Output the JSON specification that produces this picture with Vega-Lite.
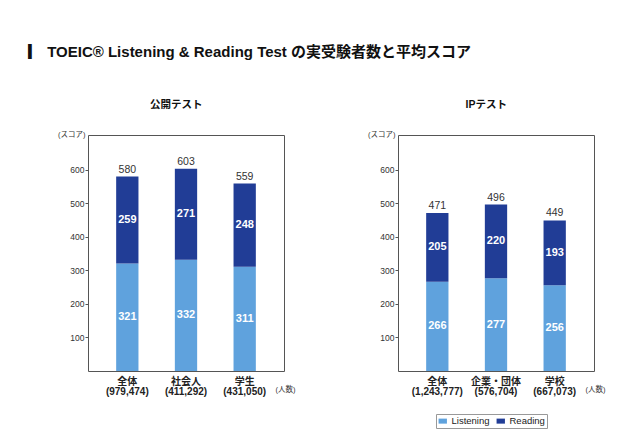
{
  "$schema": "https://vega.github.io/schema/vega-lite/v6.json",
  "padding": {"left": 28, "top": 45, "right": 0, "bottom": 0},
  "title": {"text": "▎ TOEIC® Listening & Reading Test の実受験者数と平均スコア", "anchor": "start", "fontSize": 15, "fontWeight": "bold", "color": "#111", "dx": -29, "offset": 39},
  "datasets": {
    "scores": [
      {"panel": "公開テスト", "label": "全体\n(979,474)", "section": "Listening", "score": 321},
      {"panel": "公開テスト", "label": "全体\n(979,474)", "section": "Reading", "score": 259},
      {"panel": "公開テスト", "label": "社会人\n(411,292)", "section": "Listening", "score": 332},
      {"panel": "公開テスト", "label": "社会人\n(411,292)", "section": "Reading", "score": 271},
      {"panel": "公開テスト", "label": "学生\n(431,050)", "section": "Listening", "score": 311},
      {"panel": "公開テスト", "label": "学生\n(431,050)", "section": "Reading", "score": 248},
      {"panel": "IPテスト", "label": "全体\n(1,243,777)", "section": "Listening", "score": 266},
      {"panel": "IPテスト", "label": "全体\n(1,243,777)", "section": "Reading", "score": 205},
      {"panel": "IPテスト", "label": "企業・団体\n(576,704)", "section": "Listening", "score": 277},
      {"panel": "IPテスト", "label": "企業・団体\n(576,704)", "section": "Reading", "score": 220},
      {"panel": "IPテスト", "label": "学校\n(667,073)", "section": "Listening", "score": 256},
      {"panel": "IPテスト", "label": "学校\n(667,073)", "section": "Reading", "score": 193}
    ],
    "totals": [
      {"panel": "公開テスト", "label": "全体\n(979,474)", "total": 580},
      {"panel": "公開テスト", "label": "社会人\n(411,292)", "total": 603},
      {"panel": "公開テスト", "label": "学生\n(431,050)", "total": 559},
      {"panel": "IPテスト", "label": "全体\n(1,243,777)", "total": 471},
      {"panel": "IPテスト", "label": "企業・団体\n(576,704)", "total": 496},
      {"panel": "IPテスト", "label": "学校\n(667,073)", "total": 449}
    ]
  },
  "spacing": 71,
  "hconcat": [
    {
      "title": {"text": "公開テスト"},
      "width": 196,
      "height": 236,
      "encoding": {
        "x": {"field": "label", "type": "nominal", "sort": null, "scale": {"paddingInner": 0.62, "paddingOuter": 0.48},
          "axis": {"labelExpr": "split(datum.value, '\\n')", "labelAngle": 0, "ticks": false, "labelPadding": 5, "labelFontSize": 10, "labelFontWeight": "bold", "labelColor": "#222", "labelLineHeight": 10,
            "title": "(人数)", "titleX": 187, "titleY": 18, "titleAlign": "left", "titleBaseline": "middle", "titleFontSize": 7.5, "titleFontWeight": "normal", "titleColor": "#333"}}
      },
      "layer": [
        {
          "data": {"name": "scores"},
          "transform": [{"filter": "datum.panel === '公開テスト'"}],
          "mark": {"type": "bar"},
          "encoding": {
            "y": {"field": "score", "type": "quantitative", "title": "(スコア)", "scale": {"domain": [0, 704], "nice": false},
              "axis": {"values": [100, 200, 300, 400, 500, 600], "titleAngle": 0, "titleX": -3, "titleY": -1, "titleAlign": "right", "titleBaseline": "middle", "titleFontSize": 7.5, "titleFontWeight": "normal", "tickSize": 3, "labelPadding": 1, "labelFontSize": 8.5}},
            "color": {"field": "section", "type": "nominal", "scale": {"domain": ["Listening", "Reading"], "range": ["#5fa2dd", "#213d96"]},
              "legend": {"orient": "none", "legendX": 348, "legendY": 279, "direction": "horizontal", "title": null, "labelFontSize": 9.5, "labelColor": "#222", "strokeColor": "#999", "padding": 2, "columnPadding": 6, "symbolType": "M-1,-0.6H1V0.6H-1Z", "symbolSize": 70, "symbolStrokeWidth": 0, "symbolOpacity": 1}},
            "order": {"field": "section", "type": "nominal", "sort": "ascending"}
          }
        },
        {
          "data": {"name": "totals"},
          "transform": [{"filter": "datum.panel === '公開テスト'"}],
          "mark": {"type": "text", "baseline": "bottom", "dy": -2, "fontSize": 10.5, "color": "#333"},
          "encoding": {
            "y": {"field": "total", "type": "quantitative", "title": "(スコア)"},
            "text": {"field": "total", "type": "quantitative"}
          }
        },
        {
          "data": {"name": "scores"},
          "transform": [
            {"filter": "datum.panel === '公開テスト'"},
            {"stack": "score", "groupby": ["label"], "sort": [{"field": "section", "order": "ascending"}], "as": ["s0", "s1"]},
            {"fold": ["s0", "s1"], "as": ["edge", "pos"]}
          ],
          "mark": {"type": "text", "baseline": "middle", "fontSize": 11, "fontWeight": "bold", "color": "white"},
          "encoding": {
            "y": {"field": "pos", "type": "quantitative", "aggregate": "mean", "stack": null, "title": "(スコア)"},
            "text": {"field": "score", "type": "quantitative"},
            "detail": {"field": "section", "type": "nominal"}
          }
        }
      ]
    },
    {
      "title": {"text": "IPテスト"},
      "width": 196,
      "height": 236,
      "encoding": {
        "x": {"field": "label", "type": "nominal", "sort": null, "scale": {"paddingInner": 0.62, "paddingOuter": 0.48},
          "axis": {"labelExpr": "split(datum.value, '\\n')", "labelAngle": 0, "ticks": false, "labelPadding": 5, "labelFontSize": 10, "labelFontWeight": "bold", "labelColor": "#222", "labelLineHeight": 10,
            "title": "(人数)", "titleX": 187, "titleY": 18, "titleAlign": "left", "titleBaseline": "middle", "titleFontSize": 7.5, "titleFontWeight": "normal", "titleColor": "#333"}}
      },
      "layer": [
        {
          "data": {"name": "scores"},
          "transform": [{"filter": "datum.panel === 'IPテスト'"}],
          "mark": {"type": "bar"},
          "encoding": {
            "y": {"field": "score", "type": "quantitative", "title": "(スコア)", "scale": {"domain": [0, 704], "nice": false},
              "axis": {"values": [100, 200, 300, 400, 500, 600], "titleAngle": 0, "titleX": -3, "titleY": -1, "titleAlign": "right", "titleBaseline": "middle", "titleFontSize": 7.5, "titleFontWeight": "normal", "tickSize": 3, "labelPadding": 1, "labelFontSize": 8.5}},
            "color": {"field": "section", "type": "nominal", "scale": {"domain": ["Listening", "Reading"], "range": ["#5fa2dd", "#213d96"]}},
            "order": {"field": "section", "type": "nominal", "sort": "ascending"}
          }
        },
        {
          "data": {"name": "totals"},
          "transform": [{"filter": "datum.panel === 'IPテスト'"}],
          "mark": {"type": "text", "baseline": "bottom", "dy": -2, "fontSize": 10.5, "color": "#333"},
          "encoding": {
            "y": {"field": "total", "type": "quantitative", "title": "(スコア)"},
            "text": {"field": "total", "type": "quantitative"}
          }
        },
        {
          "data": {"name": "scores"},
          "transform": [
            {"filter": "datum.panel === 'IPテスト'"},
            {"stack": "score", "groupby": ["label"], "sort": [{"field": "section", "order": "ascending"}], "as": ["s0", "s1"]},
            {"fold": ["s0", "s1"], "as": ["edge", "pos"]}
          ],
          "mark": {"type": "text", "baseline": "middle", "fontSize": 11, "fontWeight": "bold", "color": "white"},
          "encoding": {
            "y": {"field": "pos", "type": "quantitative", "aggregate": "mean", "stack": null, "title": "(スコア)"},
            "text": {"field": "score", "type": "quantitative"},
            "detail": {"field": "section", "type": "nominal"}
          }
        }
      ]
    }
  ],
  "config": {
    "font": "Liberation Sans, Noto Sans CJK JP, sans-serif",
    "background": "white",
    "view": {"stroke": "#555", "strokeWidth": 1},
    "axis": {"grid": false, "domain": false, "labelColor": "#333", "tickColor": "#555", "titleColor": "#333"},
    "title": {"fontSize": 10.5, "fontWeight": "bold", "color": "#111", "frame": "bounds", "anchor": "middle", "offset": 20},
    "legend": {"labelFont": "Liberation Sans"}
  }
}
